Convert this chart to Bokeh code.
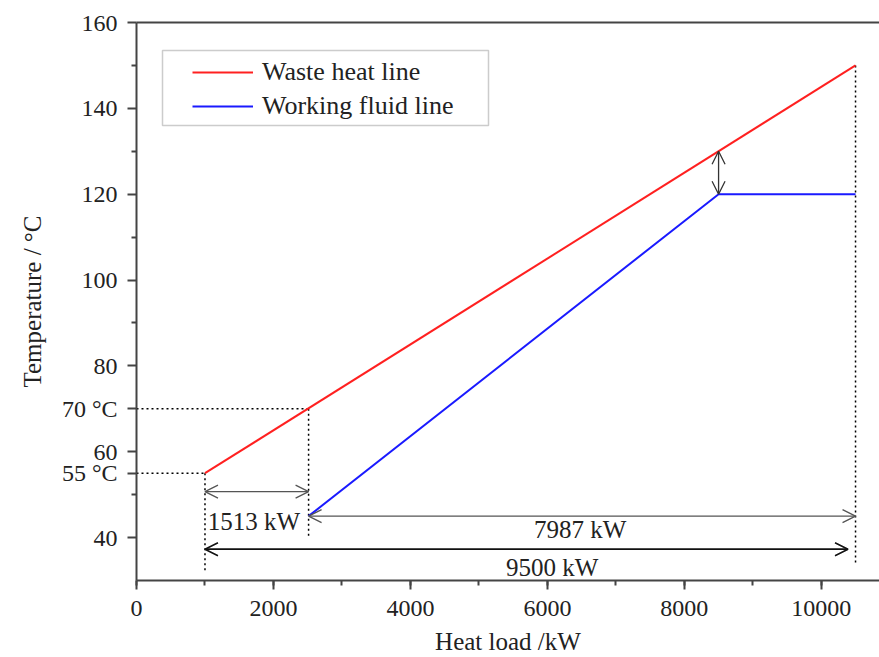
from bokeh.plotting import figure
from bokeh.models import (Range1d, SingleIntervalTicker, FixedTicker, LinearAxis, Label, Arrow,
                          OpenHead, Legend, LegendItem, BoxAnnotation)
from bokeh.embed import file_html
from bokeh.resources import INLINE

# ---- data ----
waste_x = [1000, 10500]
waste_y = [55, 150]
fluid_x = [2513, 8500, 10500]
fluid_y = [45, 120, 120]

pinch_x = 8500
pinch_hot = 130
pinch_cold = 120

inlet_load = 1000
split_load = 2513
end_load = 10500
t_out = 55
t_split = 70

load_labels = ["1513 kW", "7987 kW", "9500 kW"]
y_major = [40, 55, 60, 70, 80, 100, 120, 140, 160]
y_minor = [50, 90, 110, 130, 150]
y_overrides = {55: "55 \u00b0C", 70: "70 \u00b0C"}

FONT = "Liberation Serif"
TXT = "#222222"

p = figure(width=879, height=657, output_backend="svg", toolbar_location=None,
           x_range=Range1d(0, 10850), y_range=Range1d(30, 160),
           min_border_left=136, min_border_right=0, min_border_top=22, min_border_bottom=75)
p.outline_line_color = None
p.grid.visible = False
p.background_fill_color = "white"

for ax in (p.xaxis[0], p.yaxis[0]):
    ax.axis_line_width = 2
    ax.axis_line_color = "#444444"
    ax.major_tick_line_width = 2
    ax.major_tick_line_color = "#444444"
    ax.minor_tick_line_width = 2
    ax.minor_tick_line_color = "#444444"
    ax.major_tick_out = 9
    ax.major_tick_in = 0
    ax.minor_tick_out = 5
    ax.minor_tick_in = 0
    ax.major_label_text_font = FONT
    ax.major_label_text_font_size = "24px"
    ax.major_label_text_color = TXT
    ax.axis_label_text_font = FONT
    ax.axis_label_text_font_size = "25px"
    ax.axis_label_text_font_style = "normal"
    ax.axis_label_text_color = TXT

p.xaxis[0].ticker = SingleIntervalTicker(interval=2000, num_minor_ticks=2)
p.yaxis[0].ticker = FixedTicker(ticks=y_major, minor_ticks=y_minor)
p.yaxis[0].major_label_overrides = {k: v for k, v in y_overrides.items()}
p.xaxis[0].axis_label = "Heat load /kW"
p.yaxis[0].axis_label = "Temperature / \u00b0C"
p.xaxis[0].major_label_standoff = 11
p.xaxis[0].axis_label_standoff = 9
p.yaxis[0].major_label_standoff = 10
p.yaxis[0].axis_label_standoff = 13

top = LinearAxis(ticker=[], major_label_text_font_size="0px", axis_line_width=2,
                 axis_line_color="#444444", major_tick_line_color=None, minor_tick_line_color=None)
p.add_layout(top, "above")

# guide lines (dotted)
dot = dict(line_color="black", line_dash="2 3", line_width=1.5)
p.line([0, split_load], [t_split, t_split], **dot)
p.line([split_load, split_load], [t_split, 40], **dot)
p.line([0, inlet_load], [t_out, t_out], **dot)
p.line([inlet_load, inlet_load], [t_out, 32], **dot)
p.line([end_load, end_load], [150, 33.5], **dot)

r_waste = p.line(waste_x, waste_y, line_color="#ff2020", line_width=2)
r_fluid = p.line(fluid_x, fluid_y, line_color="#1a1aff", line_width=2)

def darrow(x0, y0, x1, y1, color, width):
    p.add_layout(Arrow(x_start=x0, y_start=y0, x_end=x1, y_end=y1,
                       start=OpenHead(size=13, line_color=color, line_width=width),
                       end=OpenHead(size=13, line_color=color, line_width=width),
                       line_color=color, line_width=width))

darrow(inlet_load, 50.7, split_load, 50.7, "#555555", 1.3)
darrow(split_load, 45, end_load, 45, "#555555", 1.3)
darrow(inlet_load, 37.3, end_load - 110, 37.3, "#111111", 1.6)
darrow(pinch_x, pinch_cold, pinch_x, pinch_hot, "#333333", 1.3)

lab = dict(text_font=FONT, text_font_size="25px", text_color=TXT)
p.add_layout(Label(x=1040, y=43.8, text=load_labels[0], text_baseline="middle", **lab))
p.add_layout(Label(x=6480, y=41.9, text=load_labels[1], text_align="center", text_baseline="middle", **lab))
p.add_layout(Label(x=6070, y=33.0, text=load_labels[2], text_align="center", text_baseline="middle", **lab))

# legend frame (screen units relative to the plot frame)
p.add_layout(BoxAnnotation(left=26, right=352, bottom=455, top=530,
                           left_units="screen", right_units="screen",
                           bottom_units="screen", top_units="screen",
                           fill_color="white", fill_alpha=1,
                           line_color="#555555", line_width=1.5))

legend = Legend(items=[LegendItem(label="Waste heat line", renderers=[r_waste]),
                       LegendItem(label="Working fluid line", renderers=[r_fluid])],
                location=(56, 459), label_text_font=FONT, label_text_font_size="26px",
                label_text_color=TXT, glyph_width=61, glyph_height=22,
                border_line_color=None, background_fill_alpha=0, padding=0,
                margin=0, spacing=4, label_standoff=9)
p.add_layout(legend, "center")

open("out.html", "w").write(file_html(p, INLINE))
